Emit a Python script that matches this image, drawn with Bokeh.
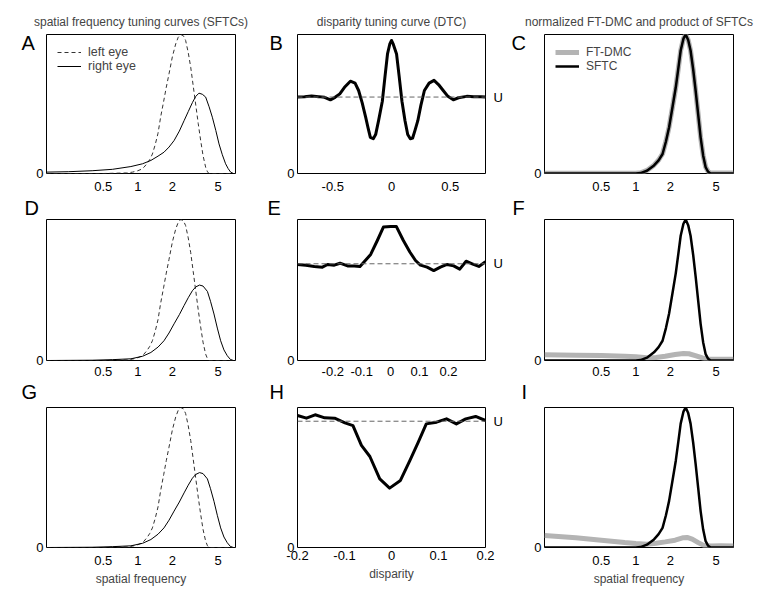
from bokeh.plotting import figure
from bokeh.layouts import column, row
from bokeh.models import (Range1d, FixedTicker, NumeralTickFormatter, Label, Span, LinearAxis,
                          CustomJSTickFormatter)
from bokeh.embed import file_html
from bokeh.resources import INLINE

FONT = "Liberation Sans"

# ---------------- data ----------------
# spatial frequency tuning curves (left column)
sf_left = [0.16, 0.5, 0.8, 0.9, 1.0, 1.07, 1.13, 1.2, 1.27, 1.34, 1.42, 1.5, 1.58, 1.68, 1.77,
           1.87, 2.0, 2.14, 2.25, 2.37, 2.5, 2.61, 2.75, 2.89, 3.04, 3.19, 3.36, 3.53, 3.7,
           3.9, 4.05, 4.17, 7.1]
left_eye = [0.0, 0.0, 0.004, 0.01, 0.02, 0.03, 0.045, 0.07, 0.10, 0.14, 0.21, 0.29, 0.405, 0.52,
            0.62, 0.717, 0.84, 0.933, 0.98, 1.0, 0.99, 0.957, 0.87, 0.765, 0.63, 0.50, 0.36,
            0.237, 0.13, 0.045, 0.012, 0.0, 0.0]

sf_right_a = [0.16, 0.25, 0.4, 0.6, 0.87, 1.1, 1.3, 1.5, 1.69, 1.87, 2.07, 2.3, 2.53, 2.75, 2.99,
              3.2, 3.41, 3.65, 3.9, 4.18, 4.46, 4.78, 5.1, 5.45, 5.82, 6.13, 6.44, 6.8, 7.1]
right_eye_a = [0.01, 0.013, 0.02, 0.03, 0.05, 0.07, 0.094, 0.125, 0.153, 0.19, 0.237, 0.305, 0.38,
               0.445, 0.51, 0.555, 0.578, 0.57, 0.55, 0.48, 0.405, 0.31, 0.213, 0.135, 0.07,
               0.035, 0.01, 0.0, 0.0]

sf_right_dg = [0.16, 0.4, 0.6, 0.87, 1.1, 1.3, 1.5, 1.69, 1.87, 2.07, 2.3, 2.53, 2.75, 2.99, 3.2,
               3.45, 3.7, 4.04, 4.3, 4.61, 4.93, 5.27, 5.63, 6.02, 6.4, 6.8, 7.1]
right_eye_dg = [0.0, 0.002, 0.006, 0.012, 0.03, 0.057, 0.095, 0.14, 0.195, 0.26, 0.325, 0.39, 0.445,
                0.495, 0.522, 0.535, 0.528, 0.49, 0.42, 0.33, 0.23, 0.14, 0.075, 0.034, 0.008,
                0.0, 0.0]

# disparity tuning curves (middle column)
disp_b = [-0.80, -0.74, -0.68, -0.62, -0.57, -0.52, -0.48, -0.44, -0.40, -0.35, -0.31, -0.28,
          -0.25, -0.22, -0.20, -0.18, -0.155, -0.135, -0.11, -0.078, -0.055, -0.034, -0.015,
          0.0, 0.015, 0.043, 0.065, 0.089, 0.115, 0.138, 0.16, 0.18, 0.2, 0.224, 0.25, 0.28,
          0.32, 0.362, 0.40, 0.44, 0.48, 0.526, 0.57, 0.64, 0.70, 0.76, 0.80]
dtc_b = [0.55, 0.552, 0.557, 0.553, 0.548, 0.53, 0.548, 0.573, 0.62, 0.664, 0.65, 0.597,
         0.51, 0.405, 0.33, 0.26, 0.25, 0.28, 0.38, 0.52, 0.70, 0.86, 0.93,
         0.957, 0.93, 0.86, 0.70, 0.52, 0.38, 0.28, 0.25, 0.255, 0.31, 0.38, 0.49, 0.597,
         0.65, 0.67, 0.64, 0.597, 0.555, 0.53, 0.545, 0.555, 0.552, 0.553, 0.55]
u_b = 0.55

disp_e = [-0.322, -0.293, -0.264, -0.236, -0.218, -0.195, -0.175, -0.149, -0.126, -0.106,
          -0.069, -0.046, -0.025, 0.0, 0.02, 0.044, 0.067, 0.086, 0.103, 0.126, 0.149,
          0.172, 0.195, 0.218, 0.239, 0.261, 0.282, 0.305, 0.328]
dtc_e = [0.681, 0.676, 0.667, 0.662, 0.681, 0.676, 0.69, 0.671, 0.671, 0.667,
         0.752, 0.851, 0.946, 0.95, 0.95, 0.851, 0.768, 0.709, 0.676, 0.662, 0.638,
         0.662, 0.681, 0.671, 0.648, 0.704, 0.686, 0.667, 0.70]
u_e = 0.686

disp_h = [-0.2, -0.181, -0.1625, -0.142, -0.121, -0.099, -0.082, -0.064, -0.046, -0.025,
          -0.004, 0.019, 0.039, 0.057, 0.074, 0.096, 0.117, 0.138, 0.158, 0.179, 0.2]
dtc_h = [0.943, 0.924, 0.948, 0.926, 0.924, 0.89, 0.871, 0.729, 0.65, 0.49,
         0.424, 0.479, 0.621, 0.752, 0.883, 0.895, 0.919, 0.883, 0.919, 0.936, 0.907]
u_h = 0.902

# normalized FT-DMC and product of SFTCs (right column)
sf_prod = [0.16, 1.0, 1.1, 1.25, 1.44, 1.58, 1.71, 1.83, 1.95, 2.09, 2.23, 2.35, 2.46, 2.6, 2.72,
           2.86, 3.0, 3.16, 3.32, 3.5, 3.67, 3.86, 4.06, 4.27, 4.49, 7.1]
sftc_prod = [0.0, 0.0, 0.003, 0.02, 0.058, 0.095, 0.14, 0.23, 0.333, 0.48, 0.62, 0.76, 0.885, 0.97,
             1.0, 0.96, 0.885, 0.75, 0.597, 0.42, 0.26, 0.13, 0.045, 0.012, 0.0, 0.0]
ftdmc_c = [0.002, 0.002, 0.005, 0.022, 0.06, 0.097, 0.142, 0.232, 0.335, 0.48, 0.62, 0.76, 0.885,
           0.97, 1.0, 0.96, 0.885, 0.75, 0.597, 0.42, 0.26, 0.13, 0.047, 0.014, 0.003, 0.003]

sf_dmc_f = [0.16, 0.3, 0.5, 0.8, 1.0, 1.25, 1.5, 1.8, 2.2, 2.6, 2.9, 3.3, 3.8, 4.3, 5.0, 7.1]
ftdmc_f = [0.04, 0.038, 0.035, 0.03, 0.026, 0.02, 0.022, 0.03, 0.042, 0.05, 0.048, 0.035, 0.018,
           0.008, 0.008, 0.008]

sf_dmc_i = [0.16, 0.3, 0.5, 0.8, 1.0, 1.25, 1.5, 1.8, 2.2, 2.6, 2.8, 3.1, 3.5, 3.9, 4.5, 5.5, 7.1]
ftdmc_i = [0.085, 0.07, 0.052, 0.035, 0.028, 0.024, 0.03, 0.04, 0.052, 0.07, 0.072, 0.06, 0.035,
           0.015, 0.01, 0.012, 0.01]

sf_ticks = [0.5, 1, 2, 5]
disp_ticks_b = [-0.5, 0, 0.5]
disp_ticks_e = [-0.2, -0.1, 0, 0.1, 0.2]
disp_ticks_h = [-0.2, -0.1, 0, 0.1, 0.2]

col_titles = ["spatial frequency tuning curves (SFTCs)", "disparity tuning curve (DTC)",
              "normalized FT-DMC and product of SFTCs"]
letters = ["A", "B", "C", "D", "E", "F", "G", "H", "I"]

# ---------------- layout ----------------
COL_W = [266, 243, 254]
COL_L = [46, 31, 35]
COL_R = [31, 24, 30]
ROW_H = [196, 185, 207]
ROW_T = [34, 23, 26]
ROW_B = [23, 21, 41]
ROW_XSTD = [8, 6, 8]
# letter left edge relative to frame left, and baseline relative to frame bottom
LET_DX = [[-22, -25, -30], [-19, -27, -29], [-22, -25, -20]]
LET_Y = [131, 153, 156]
LET_W = {"A": 13, "B": 13, "C": 14, "D": 14, "E": 13, "F": 12, "G": 16, "H": 14, "I": 6}


def make(ci, ri, xr, xticks, log=False, x_std=None):
    p = figure(width=COL_W[ci], height=ROW_H[ri], x_range=xr, y_range=Range1d(0, 1),
               x_axis_type="log" if log else "linear", output_backend="svg",
               toolbar_location=None, min_border_left=COL_L[ci], min_border_right=COL_R[ci],
               min_border_top=ROW_T[ri], min_border_bottom=ROW_B[ri])
    p.grid.visible = False
    p.outline_line_color = "black"
    p.outline_line_alpha = 1
    p.outline_line_width = 1
    p.background_fill_color = "white"
    p.border_fill_color = "white"
    for ax in (p.xaxis[0], p.yaxis[0]):
        ax.axis_line_color = None
        ax.major_tick_line_color = None
        ax.minor_tick_line_color = None
        ax.major_tick_in = 0
        ax.major_tick_out = 0
        ax.minor_tick_in = 0
        ax.minor_tick_out = 0
        ax.major_label_text_font = FONT
        ax.major_label_text_font_size = "13px"
        ax.major_label_text_color = "black"
    p.xaxis.ticker = FixedTicker(ticks=xticks)
    p.xaxis.formatter = NumeralTickFormatter(format="0.[0]")
    p.xaxis.major_label_standoff = ROW_XSTD[ri] if x_std is None else x_std
    p.yaxis.ticker = FixedTicker(ticks=[0])
    p.yaxis.formatter = NumeralTickFormatter(format="0")
    p.yaxis.major_label_standoff = 3
    let = letters[ri * 3 + ci]
    p.add_layout(Label(x=LET_DX[ri][ci] + 10 + LET_W[let], y=LET_Y[ri], x_units="screen",
                       y_units="screen", text=let, text_font=FONT, text_font_size="20px",
                       text_color="black", text_baseline="alphabetic"), "left")
    if ri == 0:
        p.title.text = col_titles[ci]
        p.title.align = "center"
        p.title.text_font = FONT
        p.title.text_font_size = "12px"
        p.title.text_font_style = "normal"
        p.title.standoff = 11
    if ri == 2:
        p.xaxis.axis_label = "disparity" if ci == 1 else "spatial frequency"
        p.xaxis.axis_label_text_font = FONT
        p.xaxis.axis_label_text_font_size = "12px"
        p.xaxis.axis_label_text_font_style = "normal"
        p.xaxis.axis_label_standoff = 4
    return p


def sf_range():
    return Range1d(0.16, 7.1)


def style_legend(p, spacing, size):
    lg = p.legend[0]
    lg.location = "top_left"
    lg.border_line_color = None
    lg.background_fill_alpha = 0
    lg.label_text_font = FONT
    lg.label_text_font_size = size
    lg.glyph_width = 24
    lg.glyph_height = 12
    lg.label_height = 12
    lg.spacing = spacing
    lg.padding = 3
    lg.margin = 11
    lg.label_standoff = 7


def add_u(p, level):
    p.add_layout(Span(location=level, dimension="width", line_color="#666666",
                      line_dash="5 3", line_width=1))
    ax = LinearAxis(ticker=FixedTicker(ticks=[level]),
                    formatter=CustomJSTickFormatter(code="return 'U'"))
    ax.axis_line_color = None
    ax.major_tick_line_color = None
    ax.minor_tick_line_color = None
    ax.major_tick_in = 0
    ax.major_tick_out = 0
    ax.minor_tick_in = 0
    ax.minor_tick_out = 0
    ax.major_label_standoff = 8
    ax.major_label_text_font = FONT
    ax.major_label_text_font_size = "13px"
    ax.major_label_text_color = "black"
    p.add_layout(ax, "right")


# row 1
pa = make(0, 0, sf_range(), sf_ticks, log=True)
pa.line(sf_left, left_eye, line_color="#333333", line_width=1, line_dash="4 3",
        legend_label="left eye")
pa.line(sf_right_a, right_eye_a, line_color="black", line_width=1, legend_label="right eye")
style_legend(pa, 0, "12.5px")

pb = make(1, 0, Range1d(-0.8, 0.8), disp_ticks_b)
add_u(pb, u_b)
pb.line(disp_b, dtc_b, line_color="black", line_width=3, line_join="round")

pc = make(2, 0, sf_range(), sf_ticks, log=True)
pc.line(sf_prod, ftdmc_c, line_color="#b4b4b4", line_width=5, legend_label="FT-DMC")
pc.line(sf_prod, sftc_prod, line_color="black", line_width=2.5, legend_label="SFTC")
style_legend(pc, 0, "12px")

# row 2
pd = make(0, 1, sf_range(), sf_ticks, log=True)
pd.line(sf_left, left_eye, line_color="#333333", line_width=1, line_dash="4 3")
pd.line(sf_right_dg, right_eye_dg, line_color="black", line_width=1)

pe = make(1, 1, Range1d(-0.322, 0.328), disp_ticks_e)
add_u(pe, u_e)
pe.line(disp_e, dtc_e, line_color="black", line_width=3, line_join="round")

pf = make(2, 1, sf_range(), sf_ticks, log=True)
pf.line(sf_dmc_f, ftdmc_f, line_color="#b4b4b4", line_width=5)
pf.line(sf_prod, sftc_prod, line_color="black", line_width=2.5)

# row 3
pg = make(0, 2, sf_range(), sf_ticks, log=True)
pg.line(sf_left, left_eye, line_color="#333333", line_width=1, line_dash="4 3")
pg.line(sf_right_dg, right_eye_dg, line_color="black", line_width=1)

ph = make(1, 2, Range1d(-0.2, 0.2), disp_ticks_h, x_std=3)
add_u(ph, u_h)
ph.line(disp_h, dtc_h, line_color="black", line_width=3, line_join="round")

pi = make(2, 2, sf_range(), sf_ticks, log=True)
pi.line(sf_dmc_i, ftdmc_i, line_color="#b4b4b4", line_width=5)
pi.line(sf_prod, sftc_prod, line_color="black", line_width=2.5)

layout = column(row(pa, pb, pc, spacing=0), row(pd, pe, pf, spacing=0),
                row(pg, ph, pi, spacing=0), spacing=0)

open("out.html", "w").write(file_html(layout, INLINE))
